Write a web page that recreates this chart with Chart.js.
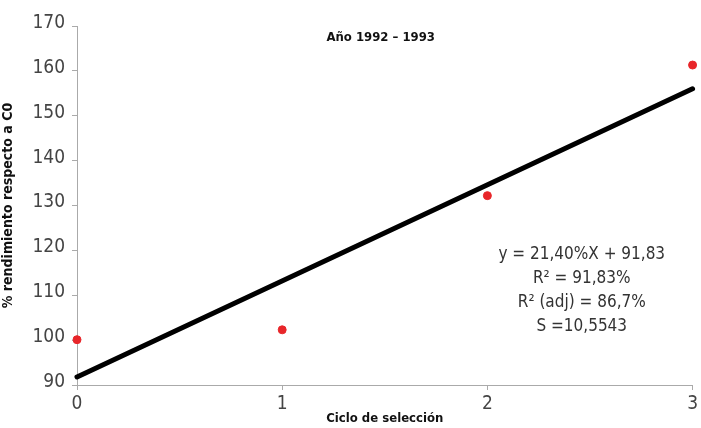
<!DOCTYPE html>
<html>
<head>
<meta charset="utf-8">
<script src="https://cdn.jsdelivr.net/npm/chart.js@4/dist/chart.umd.min.js"></script>
<style>
  html, body { margin: 0; padding: 0; background: #fff; }
  #wrap { width: 701px; height: 428px; }
</style>
</head>
<body>
<div id="wrap"><canvas id="myChart"></canvas></div>
<script>
'use strict';

// values
let ciclos = [0, 1, 2, 3];
let rendimiento = [100.1, 102.3, 132.2, 161.3];
let trendX = [0, 3];
let trendY = [91.8, 156.0];
let yTicks = [90, 100, 110, 120, 130, 140, 150, 160, 170];
let xTicks = [0, 1, 2, 3];
let eqLines = ['y = 21,40%X + 91,83', 'R² = 91,83%', 'R² (adj) = 86,7%', 'S =10,5543'];

let narrow = '"DejaVu Sans Condensed", "Liberation Sans Narrow", sans-serif';

// title + regression text inside the plot area
let textPlugin = {
  id: 'textPlugin',
  afterDraw(chart) {
    let ctx = chart.ctx;
    let xs = chart.scales.x;
    ctx.save();
    ctx.textAlign = 'center';
    ctx.textBaseline = 'middle';
    ctx.fillStyle = '#111';
    ctx.font = 'bold 13px ' + narrow;
    ctx.fillText('Año 1992 – 1993', xs.getPixelForValue(1.48), 38);
    ctx.fillStyle = '#333';
    ctx.font = '17px ' + narrow;
    let cx = xs.getPixelForValue(2.46);
    let y0 = 255;
    for (let i = 0; i < eqLines.length; i++) {
      ctx.fillText(eqLines[i], cx, y0 + i * 24);
    }
    ctx.restore();
  }
};

let chartObject = {
  type: 'scatter',
  data: {
    datasets: [
      {
        label: 'tendencia',
        data: trendX.map((x, i) => ({ x: x, y: trendY[i] })),
        showLine: true,
        borderColor: '#000',
        borderWidth: 5,
        pointRadius: 0,
        borderCapStyle: 'round',
        clip: false,
        order: 2
      },
      {
        label: 'rendimiento',
        data: ciclos.map((x, i) => ({ x: x, y: rendimiento[i] })),
        backgroundColor: '#e8262a',
        borderColor: '#e8262a',
        pointRadius: 4,
        clip: false,
        order: 1
      }
    ]
  },
  plugins: [textPlugin],
  options: {
    responsive: false,
    animation: false,
    layout: { padding: { top: 26, right: 8, left: 0, bottom: 0 } },
    plugins: {
      legend: { display: false },
      tooltip: { enabled: false }
    },
    scales: {
      x: {
        type: 'linear',
        min: 0,
        max: 3,
        afterBuildTicks: (s) => { s.ticks = xTicks.map(v => ({ value: v })); },
        ticks: { color: '#444', font: { family: narrow, size: 19 }, padding: 3 },
        grid: { drawOnChartArea: false, tickLength: 5, color: '#aaa' },
        border: { color: '#aaa', width: 1 },
        title: {
          display: true,
          text: 'Ciclo de selección',
          color: '#111',
          font: { family: narrow, size: 13, weight: 'bold' },
          padding: { top: 0, bottom: 2 }
        },
        afterFit: (s) => { s.height = 43; }
      },
      y: {
        min: 90,
        max: 170,
        afterBuildTicks: (s) => { s.ticks = yTicks.map(v => ({ value: v })); },
        ticks: { color: '#444', font: { family: narrow, size: 19 }, padding: 7, labelOffset: -3 },
        grid: { drawOnChartArea: false, tickLength: 5, color: '#aaa' },
        border: { color: '#aaa', width: 1 },
        title: {
          display: true,
          text: '% rendimiento respecto a C0',
          color: '#111',
          font: { family: narrow, size: 14, weight: 'bold' },
          padding: { top: 0, bottom: 2 }
        },
        afterFit: (s) => { s.width = 77; }
      }
    }
  }
};

let canvas = document.getElementById('myChart');
canvas.width = 701;
canvas.height = 428;
let myChart = new Chart(canvas.getContext('2d'), chartObject);
</script>
</body>
</html>
